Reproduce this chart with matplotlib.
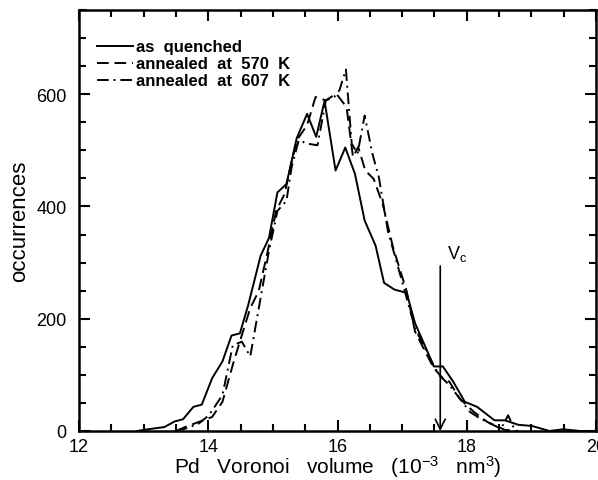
import matplotlib
matplotlib.use("Agg")
import matplotlib.pyplot as plt
from matplotlib.ticker import MultipleLocator

plt.rcParams['font.family'] = ['Liberation Sans', 'DejaVu Sans']
plt.rcParams['mathtext.default'] = 'regular'

# as quenched
x_q = [12.9, 13.0, 13.32, 13.48, 13.61, 13.77, 13.90, 14.06, 14.22, 14.36, 14.49, 14.62,
       14.81, 14.94, 15.07, 15.21, 15.37, 15.53, 15.67, 15.80, 15.97, 16.12, 16.27, 16.42,
       16.59, 16.72, 16.88, 17.07, 17.20, 17.36, 17.49, 17.63, 17.79, 17.97, 18.16, 18.43,
       18.59, 18.80, 19.01, 19.28, 19.49, 19.76, 20.0]
y_q = [0, 2, 7, 17, 21, 43, 47, 94, 124, 170, 174, 225,
       312, 344, 425, 440, 522, 565, 524, 588, 464, 505, 458, 375,
       330, 264, 252, 246, 192, 150, 115, 115, 88, 52, 43, 19,
       19, 11, 9, 0, 3, 0, 0]

# annealed at 570 K
x_a570 = [13.5, 13.64, 13.85, 14.06, 14.22, 14.38, 14.52, 14.65, 14.78, 14.91, 15.05, 15.18,
          15.26, 15.37, 15.53, 15.66, 15.82, 15.98, 16.14, 16.24, 16.32, 16.43, 16.56, 16.70,
          16.86, 17.07, 17.20, 17.36, 17.49, 17.63, 17.73, 17.89, 18.11, 18.32, 18.59, 18.8]
y_a570 = [0, 7, 16, 25, 52, 118, 171, 219, 249, 315, 392, 422,
          464, 518, 545, 595, 589, 601, 577, 488, 506, 464, 449, 404,
          327, 249, 177, 141, 112, 94, 88, 58, 34, 16, 2, 0]

# annealed at 607 K
x_a607 = [13.5, 13.64, 13.85, 14.01, 14.22, 14.38, 14.52, 14.65, 14.81, 14.94, 15.07, 15.21,
          15.29, 15.40, 15.53, 15.69, 15.82, 15.95, 16.03, 16.13, 16.22, 16.31, 16.42, 16.54,
          16.64, 16.78, 16.94, 17.07, 17.20, 17.33, 17.47, 17.57, 17.73, 17.89, 18.05, 18.21,
          18.37, 18.53, 18.64, 18.75]
y_a607 = [0, 4, 13, 28, 64, 153, 159, 133, 237, 321, 392, 410,
          470, 518, 512, 509, 589, 595, 607, 644, 512, 494, 562, 494,
          452, 356, 291, 237, 183, 153, 121, 100, 82, 58, 34, 22,
          13, 4, 28, 0]

labels = ['as  quenched', 'annealed  at  570  K', 'annealed  at  607  K']
v_c = 17.59
v_c_top = 294

fig = plt.figure(figsize=(5.98, 4.81), dpi=100)
ax = fig.add_axes([79/598, 1 - 432/481, (596-79)/598, (432-11)/481])

lw = 1.4
ax.plot(x_q, y_q, color='black', lw=lw, linestyle='-', label=labels[0])
ax.plot(x_a570, y_a570, color='black', lw=lw, linestyle=(0, (6, 3)), label=labels[1])
ax.plot(x_a607, y_a607, color='black', lw=lw, linestyle=(0, (6, 2.5, 1, 2.5)), label=labels[2])

ax.annotate('', xy=(v_c, 0), xytext=(v_c, v_c_top),
            arrowprops=dict(arrowstyle='->', lw=1.2, color='black',
                            mutation_scale=18, shrinkA=0, shrinkB=0))
ax.text(17.70, 308, 'V$_c$', fontsize=13, ha='left', va='baseline')

ax.set_xlim(12, 20)
ax.set_ylim(0, 750)
ax.xaxis.set_major_locator(MultipleLocator(2))
ax.xaxis.set_minor_locator(MultipleLocator(0.5))
ax.yaxis.set_major_locator(MultipleLocator(200))
ax.yaxis.set_minor_locator(MultipleLocator(50))
ax.tick_params(which='both', direction='in', top=True, right=True, labelsize=13, width=1.5)
ax.tick_params(which='major', length=8)
ax.tick_params(axis='x', which='major', pad=5)
ax.tick_params(axis='y', which='major', pad=9)
ax.tick_params(which='minor', length=5)
for s in ax.spines.values():
    s.set_linewidth(1.8)

ax.set_xlabel('Pd   Voronoi   volume   (10$^{-3}$   nm$^3$)', fontsize=15, labelpad=-1)
ax.set_ylabel('occurrences', fontsize=16, labelpad=4)

leg = ax.legend(loc='upper left', bbox_to_anchor=(0.018, 0.95), frameon=False,
                borderpad=0, handlelength=2.2, handletextpad=0.15, labelspacing=0.12,
                prop={'size': 12, 'weight': 'bold'})

fig.savefig('out.png', dpi=100)
